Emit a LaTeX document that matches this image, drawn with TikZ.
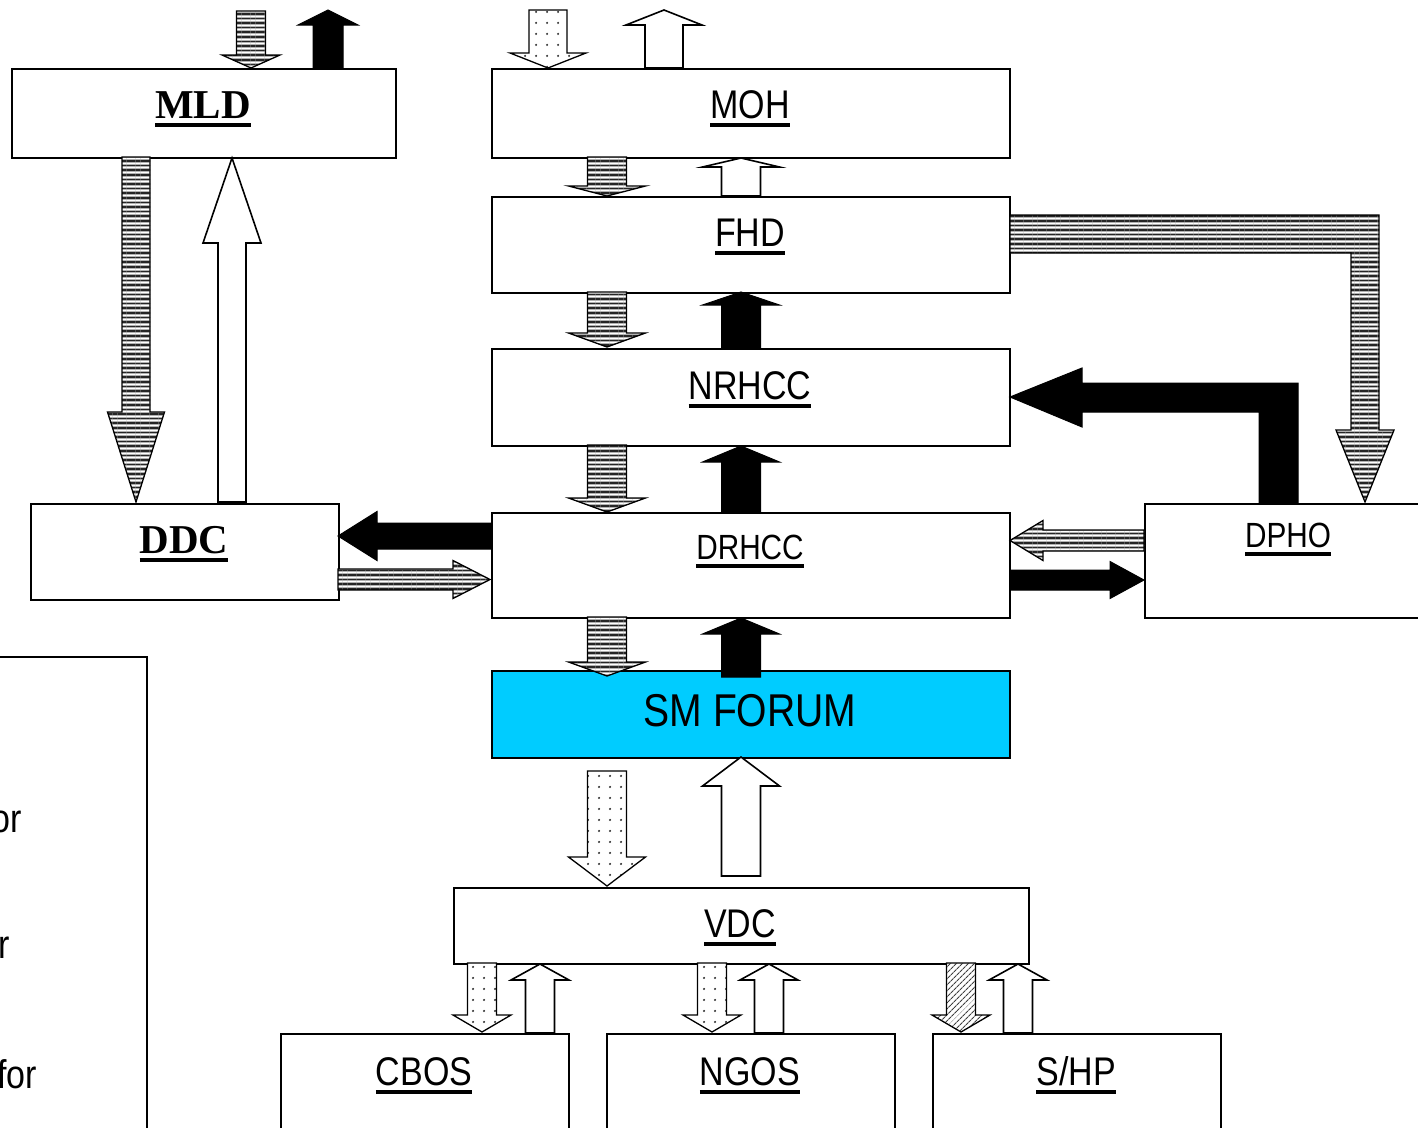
\documentclass[tikz,border=0pt]{standalone}
\usepackage{fontspec}
\setmainfont{Liberation Sans}[FakeStretch=0.85]
\newfontfamily\tnrfont{Liberation Serif}
\usetikzlibrary{patterns.meta}
\newcommand\ulab[1]{\setbox0\hbox{#1}\rlap{\rule[-8.5pt]{\wd0}{4pt}}\box0}
% vertical block arrow: style, cx, tail y, tip y, shaft hw, head hw, head base y
\newcommand\vba[7]{\draw[#1] ({#2-#5},#3) -- ({#2-#5},#7) -- ({#2-#6},#7) -- (#2,#4) -- ({#2+#6},#7) -- ({#2+#5},#7) -- ({#2+#5},#3) -- cycle;}
% horizontal block arrow: style, cy, tail x, tip x, shaft hw, head hw, head base x
\newcommand\hba[7]{\draw[#1] (#3,{#2-#5}) -- (#7,{#2-#5}) -- (#7,{#2-#6}) -- (#4,#2) -- (#7,{#2+#6}) -- (#7,{#2+#5}) -- (#3,{#2+#5}) -- cycle;}
\begin{document}
\begin{tikzpicture}[x=1pt,y=-1pt,
  box/.style={draw=black,line width=1.6pt,fill=white,rectangle,inner sep=0pt,anchor=north west},
  lab/.style={inner sep=0pt,anchor=base,font=\fontsize{40}{40}\selectfont},
  slab/.style={inner sep=0pt,anchor=base,font=\fontsize{35}{35}\selectfont},
  serlab/.style={inner sep=0pt,anchor=base,font=\fontsize{41}{41}\selectfont\tnrfont\bfseries},
  stripe/.style={draw=black,line width=1.3pt,preaction={fill=gray!60},
    preaction={pattern={Lines[angle=0,distance=4.6pt,line width=1.1pt,yshift=2.3pt]},pattern color=white},
    pattern={Lines[angle=0,distance=4.6pt,line width=1.5pt]},pattern color=black!85},
  dotty/.style={draw=black,line width=1.3pt,preaction={fill=white},
    pattern={Dots[distance=10.5pt,radius=1.2pt]},pattern color=gray!40!black},
  hatchy/.style={draw=black,line width=1.3pt,preaction={fill=white},
    pattern={Lines[angle=45,distance=4pt,line width=1.1pt]},pattern color=gray!50!black},
  blk/.style={draw=black,line width=1pt,fill=black},
  wht/.style={draw=black,line width=1.6pt,fill=white}]
\useasboundingbox (0,0) rectangle (1418,1127);
\clip (0,0) rectangle (1418,1127);
% legend frame
\node[box,minimum width=166pt,minimum height=490pt] (legend) at (-20,656) {};
\node[lab,anchor=base east] (lg1) at (22,832) {or};
\node[lab,anchor=base east] (lg2) at (10,958) {r};
\node[lab,anchor=base east] (lg3) at (37,1088) {for};
% boxes
\node[box,minimum width=384pt,minimum height=89pt] (mld) at (11,68) {};
\node[box,minimum width=518pt,minimum height=89pt] (moh) at (491,68) {};
\node[box,minimum width=518pt,minimum height=96pt] (fhd) at (491,196) {};
\node[box,minimum width=518pt,minimum height=97pt] (nrhcc) at (491,348) {};
\node[box,minimum width=518pt,minimum height=105pt] (drhcc) at (491,512) {};
\node[box,fill={rgb,255:red,0;green,204;blue,255},minimum width=518pt,minimum height=87pt] (sm) at (491,670) {};
\node[box,minimum width=308pt,minimum height=96pt] (ddc) at (30,503) {};
\node[box,minimum width=300pt,minimum height=114pt] (dpho) at (1144,503) {};
\node[box,minimum width=575pt,minimum height=76pt] (vdc) at (453,887) {};
\node[box,minimum width=288pt,minimum height=120pt] (cbos) at (280,1033) {};
\node[box,minimum width=288pt,minimum height=120pt] (ngos) at (606,1033) {};
\node[box,minimum width=288pt,minimum height=120pt] (shp) at (932,1033) {};
% labels
\node[serlab] (mldT) at (203,118) {\ulab{MLD}};
\node[serlab] (ddcT) at (184,553) {\ulab{DDC}};
\node[lab] (mohT) at (750,118) {\ulab{MOH}};
\node[lab] (fhdT) at (750,246) {\ulab{FHD}};
\node[lab] (nrhccT) at (750,399) {\ulab{NRHCC}};
\node[slab] (drhccT) at (750,559) {\ulab{DRHCC}};
\node[slab] (dphoT) at (1288,547) {\ulab{DPHO}};
\node[inner sep=0pt,anchor=base,font=\fontsize{46}{46}\selectfont] (smT) at (750,726) {SM FORUM};
\node[lab] (vdcT) at (740,937) {\ulab{VDC}};
\node[lab] (cbosT) at (424,1085) {\ulab{CBOS}};
\node[lab] (ngosT) at (750,1085) {\ulab{NGOS}};
\node[lab] (shpT) at (1076,1085) {\ulab{S/HP}};
% arrows above MLD and MOH
\vba{stripe}{251}{11}{68}{14.5}{29}{55}
\vba{blk}{328}{68}{10}{15}{30}{25}
\vba{dotty}{548}{10}{68}{19}{38}{53}
\vba{wht}{664}{68}{10}{19}{38}{25}
% central column
\vba{stripe}{607}{157}{196}{19.5}{38.5}{186}
\vba{wht}{741}{196}{158}{19.5}{38.5}{167}
\vba{stripe}{607}{292}{347}{19.5}{38.5}{333}
\vba{blk}{741}{348}{292}{19.5}{38.5}{305}
\vba{stripe}{607}{445}{512}{19.5}{38.5}{498}
\vba{blk}{741}{512}{446}{19.5}{38.5}{462}
\vba{stripe}{607}{617}{676}{19.5}{38.5}{662}
\vba{blk}{741}{677}{618}{19.5}{38.5}{634}
\vba{dotty}{607}{771}{886}{19.5}{38.5}{857}
\vba{wht}{741}{876}{757}{19.5}{38.5}{786}
% MLD <-> DDC
\vba{stripe}{136}{157}{502}{14}{28.5}{412}
\vba{wht}{232}{502}{158}{14}{29}{243}
% DDC <-> DRHCC
\hba{blk}{536}{491}{338}{13}{24.5}{377}
\hba{stripe}{579.5}{338}{490}{10.5}{19}{453}
% DPHO <-> DRHCC
\hba{stripe}{540.5}{1144}{1010}{10.5}{20}{1043}
\hba{blk}{580}{1010}{1144}{10}{18.5}{1110}
% elbow arrows
\draw[stripe] (1010,215) -- (1379,215) -- (1379,430) -- (1394,430) -- (1365,502) -- (1336,430) -- (1351,430) -- (1351,253) -- (1010,253) -- cycle;
\draw[blk] (1298,503) -- (1298,383) -- (1082,383) -- (1082,368) -- (1010,397) -- (1082,427) -- (1082,412) -- (1259,412) -- (1259,503) -- cycle;
% VDC <-> bottom boxes
\vba{dotty}{482}{963}{1032}{14.5}{29}{1015}
\vba{wht}{540}{1033}{964}{14.5}{29}{980}
\vba{dotty}{712}{963}{1032}{14.5}{29}{1015}
\vba{wht}{769}{1033}{964}{14.5}{29}{980}
\vba{hatchy}{961}{963}{1032}{14.5}{29}{1015}
\vba{wht}{1018}{1033}{964}{14.5}{29}{980}
\end{tikzpicture}
\end{document}
